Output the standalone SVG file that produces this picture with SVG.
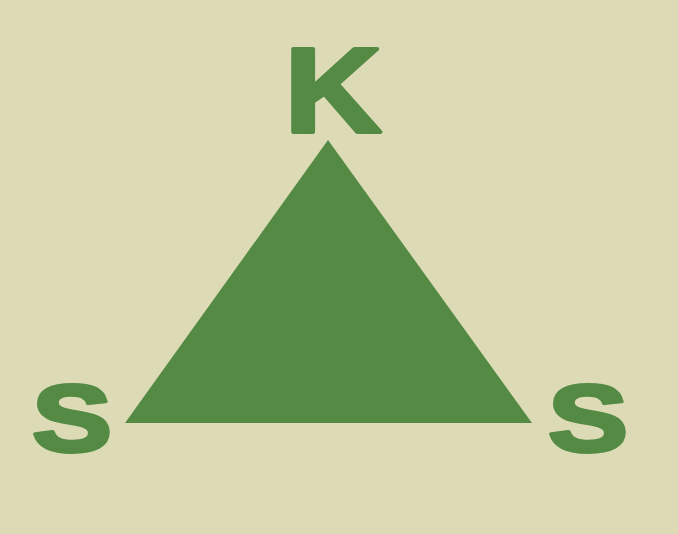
<svg xmlns="http://www.w3.org/2000/svg" width="678" height="534" viewBox="0 0 678 534">
  <style>
    .bg { fill: #DCDBB6; }
    .tri { fill: #548A44; }
    .lbl { fill: #548A44; stroke: #548A44; stroke-width: 4; stroke-linejoin: round; font-family: "Liberation Sans", Arial, sans-serif; font-weight: bold; text-anchor: middle; }
  </style>
  <rect class="bg" x="0" y="0" width="678" height="534"/>
  <g id="triangle">
    <polygon class="tri" points="328,140 125,423 532,423"/>
  </g>
  <g id="label-k">
    <text class="lbl" font-size="120" transform="translate(333,132) scale(1.12,1)" x="0" y="0">K</text>
  </g>
  <g id="label-s-left">
    <text class="lbl" font-size="94" transform="translate(72,451) scale(1.27,1)" x="0" y="0">S</text>
  </g>
  <g id="label-s-right">
    <text class="lbl" font-size="94" transform="translate(588,451) scale(1.27,1)" x="0" y="0">S</text>
  </g>
</svg>
